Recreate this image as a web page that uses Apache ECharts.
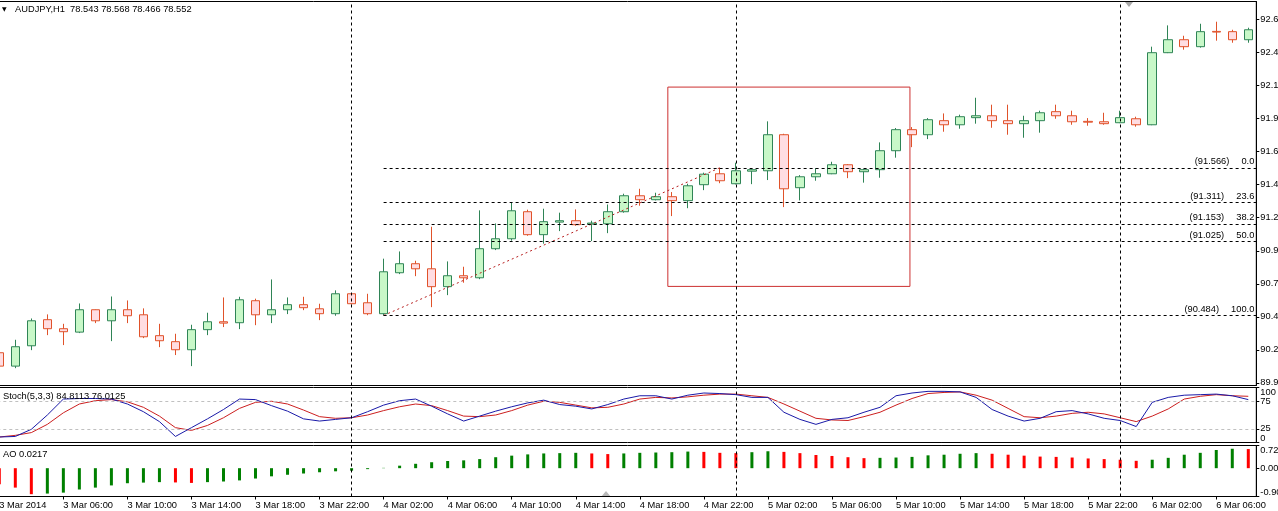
<!DOCTYPE html>
<html><head><meta charset="utf-8">
<script src="https://cdn.jsdelivr.net/npm/echarts@6/dist/echarts.min.js"></script>
<style>html,body{margin:0;padding:0;background:#fff}#c{width:1278px;height:511px}</style>
</head><body><div id="c"></div>
<script>
// ---------------- data ----------------
const categories = [
"3 Mar 02:00","3 Mar 03:00","3 Mar 04:00","3 Mar 05:00","3 Mar 06:00","3 Mar 07:00","3 Mar 08:00","3 Mar 09:00","3 Mar 10:00","3 Mar 11:00","3 Mar 12:00","3 Mar 13:00","3 Mar 14:00","3 Mar 15:00","3 Mar 16:00","3 Mar 17:00","3 Mar 18:00","3 Mar 19:00","3 Mar 20:00","3 Mar 21:00","3 Mar 22:00","3 Mar 23:00",
"4 Mar 00:00","4 Mar 01:00","4 Mar 02:00","4 Mar 03:00","4 Mar 04:00","4 Mar 05:00","4 Mar 06:00","4 Mar 07:00","4 Mar 08:00","4 Mar 09:00","4 Mar 10:00","4 Mar 11:00","4 Mar 12:00","4 Mar 13:00","4 Mar 14:00","4 Mar 15:00","4 Mar 16:00","4 Mar 17:00","4 Mar 18:00","4 Mar 19:00","4 Mar 20:00","4 Mar 21:00","4 Mar 22:00","4 Mar 23:00",
"5 Mar 00:00","5 Mar 01:00","5 Mar 02:00","5 Mar 03:00","5 Mar 04:00","5 Mar 05:00","5 Mar 06:00","5 Mar 07:00","5 Mar 08:00","5 Mar 09:00","5 Mar 10:00","5 Mar 11:00","5 Mar 12:00","5 Mar 13:00","5 Mar 14:00","5 Mar 15:00","5 Mar 16:00","5 Mar 17:00","5 Mar 18:00","5 Mar 19:00","5 Mar 20:00","5 Mar 21:00","5 Mar 22:00","5 Mar 23:00",
"6 Mar 00:00","6 Mar 01:00","6 Mar 02:00","6 Mar 03:00","6 Mar 04:00","6 Mar 05:00","6 Mar 06:00","6 Mar 07:00","6 Mar 08:00"];
const firstTickLabel = "3 Mar 2014";

const opens  = [90.211,90.113,90.262,90.453,90.387,90.362,90.526,90.445,90.526,90.489,90.336,90.292,90.233,90.380,90.438,90.431,90.592,90.489,90.526,90.563,90.533,90.497,90.643,90.577,90.497,90.797,90.863,90.826,90.695,90.775,90.760,90.973,91.046,91.244,91.076,91.168,91.178,91.153,91.156,91.244,91.361,91.332,91.354,91.325,91.442,91.522,91.449,91.541,91.544,91.808,91.420,91.500,91.522,91.588,91.537,91.552,91.691,91.845,91.808,91.911,91.881,91.933,91.947,91.911,91.889,91.911,91.977,91.947,91.906,91.903,91.896,91.925,91.881,92.409,92.504,92.453,92.565,92.563,92.504];
const closes = [90.113,90.255,90.445,90.387,90.365,90.526,90.445,90.526,90.482,90.328,90.299,90.233,90.380,90.438,90.428,90.599,90.489,90.526,90.563,90.541,90.497,90.643,90.570,90.497,90.804,90.863,90.826,90.695,90.775,90.760,90.973,91.046,91.251,91.076,91.171,91.178,91.149,91.161,91.244,91.361,91.332,91.354,91.325,91.434,91.519,91.471,91.544,91.552,91.808,91.412,91.500,91.522,91.588,91.537,91.552,91.691,91.845,91.808,91.918,91.881,91.940,91.947,91.911,91.889,91.911,91.969,91.947,91.903,91.900,91.889,91.933,91.881,92.409,92.504,92.453,92.563,92.560,92.504,92.577];
const highs  = [90.228,90.306,90.462,90.492,90.423,90.572,90.528,90.623,90.594,90.536,90.423,90.350,90.416,90.504,90.616,90.621,90.607,90.748,90.616,90.621,90.570,90.668,90.648,90.643,90.900,90.953,90.885,91.134,90.880,90.841,91.254,91.158,91.310,91.259,91.266,91.237,91.261,91.178,91.297,91.376,91.412,91.383,91.388,91.449,91.530,91.566,91.603,91.554,91.906,91.815,91.512,91.563,91.610,91.593,91.559,91.752,91.857,91.864,91.930,91.964,91.955,92.079,92.028,92.028,91.947,91.984,92.028,91.984,91.930,91.969,91.984,91.940,92.453,92.609,92.533,92.621,92.636,92.577,92.592];
const lows   = [90.103,90.098,90.230,90.340,90.267,90.355,90.428,90.296,90.428,90.318,90.252,90.194,90.113,90.340,90.399,90.384,90.413,90.428,90.494,90.523,90.450,90.482,90.565,90.486,90.484,90.787,90.772,90.545,90.633,90.724,90.750,90.963,91.032,91.068,91.010,91.102,91.141,91.029,91.087,91.237,91.288,91.327,91.212,91.270,91.402,91.453,91.444,91.446,91.476,91.278,91.327,91.471,91.519,91.490,91.457,91.493,91.640,91.717,91.776,91.830,91.852,91.889,91.859,91.808,91.786,91.823,91.925,91.881,91.874,91.881,91.893,91.867,91.878,92.406,92.431,92.446,92.497,92.482,92.482];

const stochMain   = [10,11,24,50,79,80,80,79,70,56,38,11,27,43,60,79,78,67,57,43,39,42,45,56,68,76,79,66,52,39,48,57,65,72,77,69,66,61,69,79,85,85,79,86,90,89,87,82,82,55,42,33,42,45,55,64,85,90,93,93,92,82,60,48,39,44,56,58,52,44,40,29,73,82,86,87,88,85,78];
const stochSignal = [10,13,18,33,54,70,76,78,74,64,48,27,22,31,45,62,73,75,70,59,47,44,45,50,58,65,70,67,58,48,47,50,58,68,75,73,68,63,64,70,79,82,81,83,86,88,88,85,82,70,57,44,41,40,47,55,68,80,89,91,92,86,77,62,47,45,48,53,55,52,45,38,48,61,79,84,87,85,84];

const aoPrevValue = -0.45;
const aoValues = [-0.51,-0.62,-0.83,-0.81,-0.78,-0.68,-0.62,-0.55,-0.48,-0.46,-0.445,-0.455,-0.47,-0.445,-0.425,-0.39,-0.33,-0.26,-0.21,-0.17,-0.13,-0.10,-0.08,-0.03,0.01,0.08,0.14,0.19,0.23,0.25,0.29,0.35,0.40,0.44,0.47,0.48,0.49,0.47,0.45,0.47,0.49,0.50,0.51,0.53,0.52,0.49,0.48,0.51,0.54,0.52,0.48,0.42,0.39,0.35,0.32,0.33,0.34,0.36,0.41,0.43,0.46,0.48,0.46,0.43,0.40,0.37,0.36,0.34,0.31,0.29,0.27,0.235,0.27,0.33,0.43,0.49,0.58,0.62,0.61];

const priceTicks = [92.652,92.410,92.168,91.926,91.684,91.442,91.200,90.958,90.716,90.474,90.232,89.990];
const priceMin = 89.971, priceMax = 92.784;
const stochTicks = [0,25,75,100];
const stochLevels = [25,75];
const aoTicks = [-0.9034,0,0.7236];

const separators = ["4 Mar 00:00","5 Mar 00:00","6 Mar 00:00"];
const fibLevels = [
  {price:91.566, level:"0.0"},
  {price:91.311, level:"23.6"},
  {price:91.153, level:"38.2"},
  {price:91.025, level:"50.0"},
  {price:90.484, level:"100.0"}
];
const fibStartBar = 24;
const trendPoints = [[24, 90.484],[45, 91.566]];
const boxCorners = [[41.75, 92.157],[56.87, 90.697]];

const headerText = "AUDJPY,H1  78.543 78.568 78.466 78.552";
const stochText = "Stoch(5,3,3) 84.8113 76.0125";
const aoText = "AO 0.0217";

// ---------------- chart ----------------
const FONT = "Liberation Sans";
const FS = 9.3;
const gridBase = {left:-8.7, width:1265, show:true, borderColor:'#000', borderWidth:1, backgroundColor:'transparent', containLabel:false, outerBoundsMode:'none'};
const rightEdge = categories.length - 0.5;
const sepLine = {symbol:'none', silent:true, label:{show:false}, lineStyle:{color:'#000', type:[3,3], width:1},
  data: separators.map(s => ({xAxis:s}))};
const yLab = {color:'#000', fontSize:FS, fontFamily:FONT, margin:4};
const yLine = {show:true, onZero:false, lineStyle:{color:'#000'}};
const txt = {fontSize:FS, color:'#000', fontWeight:'normal', fontFamily:FONT};

const candleData = categories.map((c,i) => [opens[i], closes[i], lows[i], highs[i]]);

const option = {
  animation:false,
  backgroundColor:'#fff',
  textStyle:{fontFamily:FONT},
  title:[
    {text:'▼', left:2, top:6, padding:0, textStyle:{fontSize:6, color:'#000', fontWeight:'normal', fontFamily:'DejaVu Sans'}},
    {text:headerText, left:15, top:5, padding:0, textStyle:txt},
    {text:stochText, left:3, top:392, padding:0, textStyle:txt},
    {text:aoText, left:3, top:450, padding:0, textStyle:txt}
  ],
  graphic:[
    {type:'polygon', shape:{points:[[1125,2],[1133,2],[1129,7]]}, style:{fill:'#a8a8a8'}, silent:true},
    {type:'polygon', shape:{points:[[601,497],[611,497],[606,491]]}, style:{fill:'#b8b8b8'}, silent:true}
  ],
  grid:[
    Object.assign({top:1.5, height:384}, gridBase),
    Object.assign({top:387.5, height:55}, gridBase),
    Object.assign({top:445.5, height:51}, gridBase)
  ],
  xAxis:[
    {type:'category', gridIndex:0, data:categories, show:false},
    {type:'value', gridIndex:0, min:-0.5, max:rightEdge, show:false},
    {type:'category', gridIndex:1, data:categories, show:false},
    {type:'category', gridIndex:2, data:categories,
      axisLine:{show:true, onZero:false, lineStyle:{color:'#000'}},
      axisTick:{show:true, length:3, alignWithLabel:true, interval:(i)=> i%4===0, lineStyle:{color:'#000'}},
      axisLabel:{show:true, interval:(i)=> i%4===0, align:'left', margin:4, color:'#000', fontSize:FS, fontFamily:FONT,
        formatter:(v, idx)=> idx===0 ? firstTickLabel : v},
      splitLine:{show:false}}
  ],
  yAxis:[
    {type:'value', gridIndex:0, position:'right', min:priceMin, max:priceMax, scale:true,
      splitLine:{show:false}, axisLine:yLine,
      axisTick:{show:true, length:3, customValues:priceTicks, lineStyle:{color:'#000'}},
      axisLabel:Object.assign({customValues:priceTicks, formatter:(v)=> v.toFixed(3), showMinLabel:true, showMaxLabel:true}, yLab)},
    {type:'value', gridIndex:1, position:'right', min:0, max:100,
      splitLine:{show:false}, axisLine:yLine,
      axisTick:{show:true, length:3, customValues:stochTicks, lineStyle:{color:'#000'}},
      axisLabel:Object.assign({customValues:stochTicks, showMinLabel:true, showMaxLabel:true,
        verticalAlignMinLabel:'bottom', verticalAlignMaxLabel:'top'}, yLab)},
    {type:'value', gridIndex:2, position:'right', min:aoTicks[0], max:aoTicks[2],
      splitLine:{show:false}, axisLine:yLine,
      axisTick:{show:true, length:3, customValues:aoTicks, lineStyle:{color:'#000'}},
      axisLabel:Object.assign({customValues:aoTicks, formatter:(v)=> v.toFixed(4), showMinLabel:true, showMaxLabel:true,
        verticalAlignMinLabel:'bottom', verticalAlignMaxLabel:'top'}, yLab)}
  ],
  series:[
    {type:'candlestick', xAxisIndex:0, yAxisIndex:0, data:candleData, barWidth:9,
      itemStyle:{color:'#c8f8c8', color0:'#ffdde2', borderColor:'#2f8456', borderColor0:'#e0522a', borderWidth:1},
      markLine:sepLine, z:3},
    {type:'line', xAxisIndex:1, yAxisIndex:0, data:trendPoints, symbol:'none', silent:true,
      lineStyle:{color:'#b82020', width:1, type:[2,3]}, z:4,
      markLine:{symbol:'none', silent:true,
        lineStyle:{color:'#000', width:1, type:[3,3]},
        label:{show:true, position:'insideEndTop', distance:2, color:'#000', fontSize:FS, fontFamily:FONT,
          formatter:(p)=> '{a|(' + p.data.priceText + ')}' + p.data.levelText,
          rich:{a:{fontSize:FS, fontFamily:FONT, color:'#000', padding:[0,12,0,0]}}},
        data: fibLevels.map(f => [
          {coord:[fibStartBar, f.price], priceText:f.price.toFixed(3), levelText:f.level},
          {coord:[rightEdge, f.price]}
        ])},
      markArea:{silent:true, itemStyle:{color:'rgba(0,0,0,0)', borderColor:'#cc3030', borderWidth:1},
        data:[[{coord:boxCorners[0]},{coord:boxCorners[1]}]]}},
    {type:'line', xAxisIndex:2, yAxisIndex:1, data:stochMain, symbol:'none', silent:true,
      lineStyle:{color:'#1a1aa8', width:1}, z:4,
      markLine:{symbol:'none', silent:true, label:{show:false}, lineStyle:{color:'#c0c0c0', width:1, type:[3,3]},
        data: stochLevels.map(v => ({yAxis:v})).concat(separators.map(s => ({xAxis:s, lineStyle:{color:'#000'}})))}},
    {type:'line', xAxisIndex:2, yAxisIndex:1, data:stochSignal, symbol:'none', silent:true,
      lineStyle:{color:'#cc1f1f', width:1}, z:3},
    {type:'bar', xAxisIndex:3, yAxisIndex:2, data:aoValues, barWidth:3, silent:true,
      itemStyle:{color:(p)=> { const prev = p.dataIndex===0 ? aoPrevValue : aoValues[p.dataIndex-1];
        return aoValues[p.dataIndex] > prev ? '#008000' : '#ff0000'; }},
      markLine:sepLine}
  ]
};
const chart = echarts.init(document.getElementById('c'), null, {renderer:'canvas'});
chart.setOption(option);
</script></body></html>
